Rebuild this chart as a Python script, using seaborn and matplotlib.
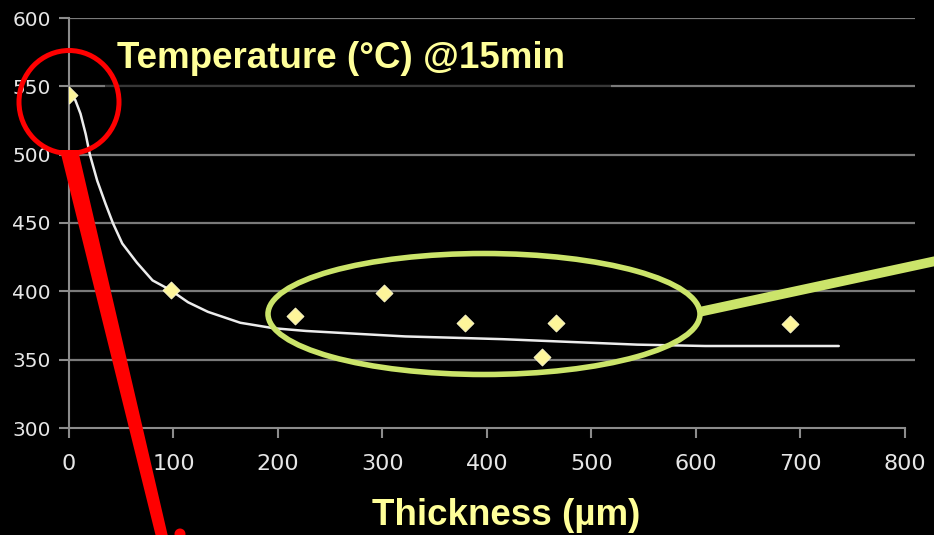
import matplotlib
matplotlib.use("Agg")
import matplotlib.pyplot as plt
from matplotlib.patches import Ellipse, Rectangle, Polygon
from matplotlib.lines import Line2D
import seaborn as sns
import pandas as pd

# ---- data ----
thickness = [0, 98, 216, 302, 379, 453, 466, 690]
temperature = [544, 401, 382, 399, 377, 352, 377, 376]

curve_x = [0, 6, 11, 16, 20, 27, 35, 42, 51, 65, 80, 97, 114, 133, 164, 196,
           227, 274, 322, 370, 415, 479, 544, 609, 673, 737]
curve_y = [545, 540, 530, 515, 500, 481, 464, 450, 435, 421, 408, 401, 392,
           385, 377, 373, 371, 369, 367, 366, 365, 363, 361, 360, 360, 360]

x_ticks = [0, 100, 200, 300, 400, 500, 600, 700, 800]
y_ticks = [300, 350, 400, 450, 500, 550, 600]
title_text = "Temperature (°C) @15min"
xlabel_text = "Thickness (µm)"

pts = pd.DataFrame({"x": thickness, "y": temperature})
crv = pd.DataFrame({"x": curve_x, "y": curve_y})

sns.set_theme(style="dark")
plt.rcParams["font.family"] = ["DejaVu Sans"]

W, H = 934, 535
fig = plt.figure(figsize=(W / 100, H / 100), dpi=100, facecolor="black")
ax = fig.add_axes([69 / W, 1 - 428 / H, (915 - 69) / W, (428 - 18) / H])
ax.set_facecolor("black")


def f(x, y):
    return (x / W, 1 - y / H)


sns.lineplot(data=crv, x="x", y="y", ax=ax, color="#ececec", linewidth=1.8,
             zorder=3)
sns.scatterplot(data=pts, x="x", y="y", ax=ax, marker="D", s=75,
                color="#fdf59a", edgecolor="#fffbd0", linewidth=0.6, zorder=4)

ax.set_xlim(0, 810)
ax.set_ylim(300, 600)
ax.set_xticks(x_ticks)
ax.set_yticks(y_ticks)
ax.set_xticklabels([str(t) for t in x_ticks], fontsize=16, color="#e6e6e6")
ax.set_yticklabels([str(t) for t in y_ticks], fontsize=14.5, color="#e6e6e6")
ax.tick_params(axis="x", direction="out", length=7, width=1.5, color="#8c8c8c",
               pad=12, bottom=True)
ax.tick_params(axis="y", direction="out", length=7, width=1.5, color="#8c8c8c",
               pad=6, left=True)
ax.set_xlabel("")
ax.set_ylabel("")

ax.grid(False)
for yv in y_ticks[1:]:
    ax.axhline(yv, color="#7a7a7a", linewidth=1.6, zorder=1)

for side in ["top", "right"]:
    ax.spines[side].set_visible(False)
ax.spines["left"].set_color("#8c8c8c")
ax.spines["left"].set_linewidth(1.5)
ax.spines["bottom"].set_color("#8c8c8c")
ax.spines["bottom"].set_linewidth(1.5)
ax.spines["bottom"].set_bounds(0, 800)

# dim segment of the 550 gridline behind the title box
fig.patches.append(Rectangle(f(105, 89), (611 - 105) / W, 4 / H,
                             transform=fig.transFigure, facecolor="black",
                             alpha=0.55, edgecolor="none", zorder=5))

fig.text(117 / W, 1 - 68 / H, title_text, fontsize=26.5, fontweight="bold",
         family=["Liberation Sans", "DejaVu Sans"], color="#ffff99",
         ha="left", va="baseline")
fig.text(506 / W, 1 - 525 / H, xlabel_text, fontsize=26.5, fontweight="bold",
         family=["Liberation Sans", "DejaVu Sans"], color="#ffff99",
         ha="center", va="baseline")

# red annotation
fig.patches.append(Polygon([f(60, 150), f(78, 150), f(170, 545), f(158, 545)],
                           closed=True, transform=fig.transFigure,
                           facecolor="#ff0000", edgecolor="none", zorder=6))
fig.patches.append(Ellipse(f(69, 102), 100 / W, 103 / H,
                           transform=fig.transFigure, fill=False,
                           edgecolor="#ff0000", linewidth=3.6, zorder=6))
fig.patches.append(Ellipse(f(180, 534), 11 / W, 11 / H,
                           transform=fig.transFigure, facecolor="#ff0000",
                           edgecolor="none", zorder=6))

# green annotation
fig.patches.append(Ellipse(f(484, 314), 432 / W, 121 / H,
                           transform=fig.transFigure, fill=False,
                           edgecolor="#cbe46a", linewidth=4.0, zorder=6))
fig.lines.append(Line2D([699 / W, 945 / W], [1 - 312 / H, 1 - 259 / H],
                        transform=fig.transFigure, color="#cbe46a",
                        linewidth=7.0, solid_capstyle="butt", zorder=6))

fig.savefig("out.png", dpi=100, facecolor="black")
